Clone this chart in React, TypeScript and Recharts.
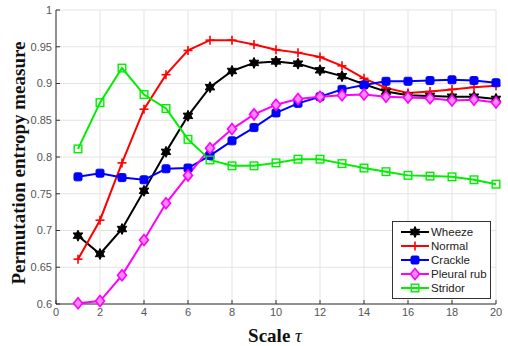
import React from 'react';
import { LineChart, Line, XAxis, YAxis, CartesianGrid } from 'recharts';

const scales = [1, 2, 3, 4, 5, 6, 7, 8, 9, 10, 11, 12, 13, 14, 15, 16, 17, 18, 19, 20];
const wheeze = [0.693, 0.668, 0.702, 0.754, 0.807, 0.856, 0.895, 0.917, 0.928, 0.930, 0.927, 0.918, 0.910, 0.899, 0.889, 0.884, 0.883, 0.882, 0.882, 0.879];
const normal = [0.661, 0.714, 0.792, 0.865, 0.912, 0.945, 0.959, 0.959, 0.953, 0.946, 0.942, 0.936, 0.924, 0.907, 0.894, 0.887, 0.889, 0.892, 0.895, 0.897];
const crackle = [0.773, 0.778, 0.772, 0.769, 0.784, 0.785, 0.802, 0.822, 0.840, 0.860, 0.873, 0.882, 0.892, 0.898, 0.903, 0.903, 0.904, 0.905, 0.904, 0.901];
const pleuralRub = [0.601, 0.604, 0.639, 0.687, 0.737, 0.775, 0.812, 0.838, 0.858, 0.871, 0.879, 0.882, 0.884, 0.885, 0.882, 0.881, 0.880, 0.877, 0.878, 0.874];
const stridor = [0.811, 0.874, 0.921, 0.885, 0.866, 0.824, 0.796, 0.788, 0.788, 0.792, 0.797, 0.797, 0.791, 0.785, 0.780, 0.775, 0.774, 0.773, 0.769, 0.763];

const xTicks = [0, 2, 4, 6, 8, 10, 12, 14, 16, 18, 20];
const yTicks = [0.6, 0.65, 0.7, 0.75, 0.8, 0.85, 0.9, 0.95, 1];

const data = scales.map((s, i) => ({
    scale: s,
    wheeze: wheeze[i],
    normal: normal[i],
    crackle: crackle[i],
    pleural: pleuralRub[i],
    stridor: stridor[i],
}));

type Marker = 'star' | 'plus' | 'square' | 'diamond' | 'hollowSquare';

const series: { key: string; name: string; color: string; marker: Marker }[] = [
    { key: 'wheeze', name: 'Wheeze', color: '#000000', marker: 'star' },
    { key: 'normal', name: 'Normal', color: '#ff0000', marker: 'plus' },
    { key: 'crackle', name: 'Crackle', color: '#0000ff', marker: 'square' },
    { key: 'pleural', name: 'Pleural rub', color: '#ff00ff', marker: 'diamond' },
    { key: 'stridor', name: 'Stridor', color: '#00ee00', marker: 'hollowSquare' },
];

const MarkerShape = ({ cx, cy, color, marker }: { cx: number; cy: number; color: string; marker: Marker }) => {
    if (cx == null || cy == null) return null;
    if (marker === 'star') {
        const pts: string[] = [];
        for (let k = 0; k < 12; k++) {
            const r = k % 2 === 0 ? 5.5 : 3;
            const a = (Math.PI / 6) * k - Math.PI / 2;
            pts.push(`${cx + r * Math.cos(a)},${cy + r * Math.sin(a)}`);
        }
        return <polygon points={pts.join(' ')} fill={color} stroke={color} strokeWidth={1} />;
    }
    if (marker === 'plus') {
        return (
            <g stroke={color} strokeWidth={1.6}>
                <line x1={cx - 4.5} y1={cy} x2={cx + 4.5} y2={cy} />
                <line x1={cx} y1={cy - 4.5} x2={cx} y2={cy + 4.5} />
            </g>
        );
    }
    if (marker === 'square') {
        return <rect x={cx - 4} y={cy - 4} width={8} height={8} rx={1.5} fill={color} stroke={color} />;
    }
    if (marker === 'diamond') {
        return (
            <polygon
                points={`${cx},${cy - 5.5} ${cx + 4.5},${cy} ${cx},${cy + 5.5} ${cx - 4.5},${cy}`}
                fill="#ff88ff"
                stroke={color}
                strokeWidth={1.6}
            />
        );
    }
    return <rect x={cx - 3.8} y={cy - 3.8} width={7.6} height={7.6} fill="none" stroke={color} strokeWidth={1.4} />;
};

// legend drawn as a plain overlay so recharts doesn't reserve room for it
const LegendBox = () => (
    <div
        style={{
            position: 'absolute',
            left: 392,
            top: 221,
            border: '1px solid #333',
            background: '#fff',
            width: 97,
            padding: '3px 0',
            fontFamily: 'Liberation Sans, Arial, sans-serif',
            fontSize: 11.5,
            color: '#222',
        }}
    >
        {series.map((s) => (
            <div key={s.key} style={{ display: 'flex', alignItems: 'center', height: 14 }}>
                <svg width={34} height={14} style={{ marginLeft: 4 }}>
                    <line x1={4} y1={7} x2={32} y2={7} stroke={s.color} strokeWidth={2} />
                    <MarkerShape cx={18} cy={7} color={s.color} marker={s.marker} />
                </svg>
                <span style={{ marginLeft: 0 }}>{s.name}</span>
            </div>
        ))}
    </div>
);

const tickStyle = { fill: '#555', fontSize: 11, fontFamily: 'Liberation Sans, Arial, sans-serif' };

export default function App() {
    return (
        <div style={{ position: 'absolute', left: 0, top: 0, width: 508, height: 346, background: '#fff' }}>
            <LineChart width={508} height={346} data={data} margin={{ top: 10, right: 12, left: 0, bottom: 22 }}>
                <CartesianGrid stroke="#e3e3e3" strokeWidth={1} />
                <XAxis
                    dataKey="scale"
                    type="number"
                    domain={[0, 20]}
                    ticks={xTicks}
                    interval={0}
                    tick={tickStyle}
                    tickLine={{ stroke: '#333' }}
                    tickSize={-4}
                    axisLine={{ stroke: '#333' }}
                    height={20}
                    tickMargin={8}
                />
                <XAxis xAxisId="top" orientation="top" type="number" domain={[0, 20]} ticks={xTicks} tick={false} tickLine={{ stroke: '#333' }} tickSize={-4} axisLine={{ stroke: '#333' }} height={0} />
                <YAxis
                    type="number"
                    domain={[0.6, 1]}
                    ticks={yTicks}
                    interval={0}
                    tick={tickStyle}
                    tickLine={{ stroke: '#333' }}
                    tickSize={-4}
                    axisLine={{ stroke: '#333' }}
                    width={56}
                    tickMargin={8}
                />
                <YAxis yAxisId="right" orientation="right" type="number" domain={[0.6, 1]} ticks={yTicks} tick={false} tickLine={{ stroke: '#333' }} tickSize={-4} axisLine={{ stroke: '#333' }} width={0} />
                {series.map((s) => (
                    <Line
                        key={s.key}
                        dataKey={s.key}
                        name={s.name}
                        stroke={s.color}
                        strokeWidth={2}
                        isAnimationActive={false}
                        dot={(p: any) => <MarkerShape key={`${s.key}-${p.index}`} cx={p.cx} cy={p.cy} color={s.color} marker={s.marker} />}
                        activeDot={false}
                    />
                ))}
            </LineChart>
            <LegendBox />
            <div
                style={{
                    position: 'absolute',
                    left: 19,
                    top: 163,
                    transform: 'translate(-50%, -50%) rotate(-90deg)',
                    whiteSpace: 'nowrap',
                    fontFamily: 'Liberation Serif, Times New Roman, serif',
                    fontWeight: 'bold',
                    fontSize: 19,
                    color: '#111',
                }}
            >
                Permutation entropy measure
            </div>
            <div
                style={{
                    position: 'absolute',
                    left: 275,
                    top: 336,
                    transform: 'translate(-50%, -50%)',
                    whiteSpace: 'nowrap',
                    fontFamily: 'Liberation Serif, Times New Roman, serif',
                    fontWeight: 'bold',
                    fontSize: 19,
                    color: '#111',
                }}
            >
                Scale <i style={{ fontWeight: 'normal' }}>τ</i>
            </div>
        </div>
    );
}
